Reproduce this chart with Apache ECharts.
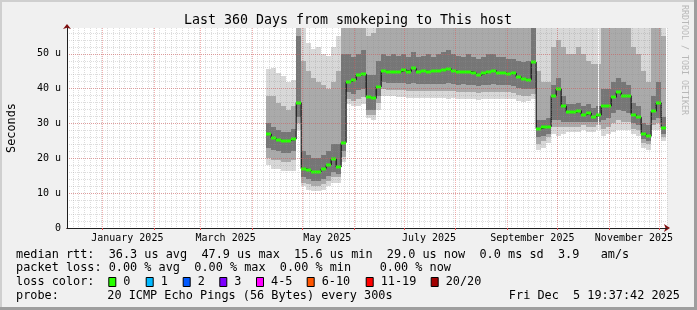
<!DOCTYPE html>
<html><head><meta charset="utf-8">
<script src="https://cdn.jsdelivr.net/npm/echarts@6/dist/echarts.min.js"></script>
<style>html,body{margin:0;padding:0;background:#f0f0f0}#c{width:697px;height:310px}</style>
</head><body><div id="c"></div>
<script>
// ---------------- data ----------------
const titleText = 'Last 360 Days from smokeping to This host';
const graphStart = '2024-12-10T19:37:42Z';
const spanDays = 360;
const monthStarts = ['2025-01-01','2025-02-01','2025-03-01','2025-04-01','2025-05-01','2025-06-01',
  '2025-07-01','2025-08-01','2025-09-01','2025-10-01','2025-11-01','2025-12-01'];
const labelMonths = ['2025-01-01','2025-03-01','2025-05-01','2025-07-01','2025-09-01','2025-11-01'];
const labelTexts = ['January 2025','March 2025','May 2025','July 2025','September 2025','November 2025'];
const yTicks = [0, 10, 20, 30, 40, 50];
const yMax = 57.4;
const firstBucket = '2025-04-09T07:37:42Z';
const bucketDays = 3;
const outages = [['2025-10-25T11:00:00Z', '2025-10-26T07:00:00Z']];

const median = [27.0,25.8,25.2,24.9,25.1,25.5,36.0,
  17.0,16.6,16.0,16.2,17.0,18.1,19.8,17.5,
  24.5,42.0,42.5,43.9,44.2,37.5,37.2,40.5,
  45.0,44.9,44.9,44.8,45.3,44.9,45.8,44.9,45.0,44.9,45.1,45.2,45.4,45.7,45.1,44.7,44.9,44.9,44.6,43.9,44.4,44.9,45.2,44.6,44.5,44.2,44.4,43.4,42.7,42.6,
  47.6,28.5,28.9,29.0,38.0,40.0,35.0,33.4,33.2,33.7,32.5,33.0,32.0,32.4,
  35.0,35.0,37.5,39.0,38.0,38.0,32.5,31.8,27.0,26.3,33.5,36.0,28.8];
const smokeLo = [18,17,17,16.5,16.5,16.5,28,
  12,11,10.5,10.5,11,12,13,13,
  19,35.5,35,35,35.5,31.5,31,34,
  38,38,37.8,37.6,37.6,37.4,37.4,37.3,37.3,37.4,37.2,37.2,37.3,37.1,37.2,37.0,37.0,37.0,37.1,36.8,36.9,37.0,37.1,37.0,37.0,37.1,36.9,36.5,36.3,36.4,
  37,22.5,23,24.5,27,26.5,27,27.5,27.5,27.5,28,27.5,27.5,28,
  26.5,27,27.5,28,28,28,27,26.5,23,22.5,28,28,25];
const smokeLo2 = [20,19.5,19.5,19,19,19.5,30,
  13,12.5,12,12,12.5,13.5,14.5,14.5,
  20.5,37,36.5,37,37.5,32.5,32.5,36,
  39.8,39.7,39.6,39.5,39.5,39.4,39.4,39.3,39.3,39.4,39.2,39.2,39.3,39.2,39.2,39.0,39.0,39.0,39.1,38.8,38.9,39.0,39.1,39.0,39.0,39.1,38.8,38.3,38.0,38.0,
  38.5,24,25,26,29,29,29,29,29,29,29.5,29,29,29.5,
  28.5,29,30,31,30.5,30.5,28.5,28,24.5,24,29.5,30,26];
const smokeLo3 = [23,22.5,22,21.5,21.5,22,32,
  14.5,14,13.5,13.5,14,15,16,15.5,
  22,39,38.5,39.5,40,34,34,38,
  41.8,41.7,41.6,41.5,41.6,41.4,41.6,41.3,41.4,41.4,41.3,41.3,41.4,41.5,41.3,41.1,41.2,41.1,41.1,40.7,40.9,41.1,41.3,41.0,41.0,41.0,40.8,40.2,39.8,39.8,
  40,26,26.5,27,31,31,30.5,30.5,30.5,30.5,30.5,30.5,30.5,30.5,
  31,31.5,33,34,33.5,33,30,29.5,25.5,25,31,31.5,27];
const smokeHi3 = [30,29,28,27.5,27.5,28.5,55,
  22,21,20,20,21,22,24,24,
  50,50,49,50,51,44,44,48,
  50,49.5,50,49.5,50,49,50.5,49,49.5,50,49,50,50.5,51,50,49.5,49,50,49,48.5,49,50,50,49,49,48.5,48.5,48,47.5,48,
  62,31,31,31.5,41,43,38,35.5,35.5,36,35,35.5,34.5,35,
  40,40,42,43,42,41,36,35,30,29.5,38,42,32];
const smokeHi2 = [38,38,36,35,34,35,62,
  48,45,43,42,41,40,42,45,
  62,62,62,62,62,55,56,58,
  62,60,62,62,58,62,62,62,60,62,62,62,62,62,62,62,62,58,62,62,62,62,60,62,62,62,62,62,62,62,
  62,45,42,42,52,54,52,50,50,52,50,48,47,47,
  58,60,60,62,60,58,52,50,45,42,58,60,55];
const smokeHi = [45.5,46,44.5,43.5,42,42.5,62,
  62,53,51.5,52,50,49.5,52,55,
  62,62,62,62,62,62,62,62,
  62,62,62,62,62,62,62,62,62,62,62,62,62,62,62,62,62,62,62,62,62,62,62,62,62,62,62,62,62,62,
  62,62,62,62,62,62,62,62,62,62,62,62,62,62,
  62,62,62,62,62,62,62,62,62,62,62,62,62];

const legendRtt = 'median rtt:  36.3 us avg  47.9 us max  15.6 us min  29.0 us now  0.0 ms sd  3.9   am/s';
const legendLoss = 'packet loss: 0.00 % avg  0.00 % max  0.00 % min    0.00 % now';
const lossLabels = ['0','1','2','3','4-5','6-10','11-19','20/20'];
const lossColors = ['#26ff00','#00b8ff','#0059ff','#7e00ff','#ff00ff','#ff5500','#ff0000','#a10000'];
const probeText = '20 ICMP Echo Pings (56 Bytes) every 300s';
const stampText = 'Fri Dec  5 19:37:42 2025';

// ---------------- build ----------------
const DAY = 86400000;
const T0 = Date.parse(graphStart);
const dayOf = s => (Date.parse(s.length === 10 ? s + 'T00:00:00Z' : s) - T0) / DAY;
const monthDays = monthStarts.map(dayOf);
const labelDays = labelMonths.map(s => dayOf(s) + 15);
const b0 = dayOf(firstBucket);
const spans = median.map((_, i) => [b0 + i * bucketDays, b0 + (i + 1) * bucketDays]);

const MONO = '"DejaVu Sans Mono", monospace';
const layerDefs = [
  [smokeLo, smokeHi, '#d8d8d8'],
  [smokeLo2, smokeHi2, '#aaaaaa'],
  [smokeLo3, smokeHi3, '#767676']
];
function bandItem(color) {
  return function (params, api) {
    const a = api.coord([api.value(0), api.value(3)]);
    const b = api.coord([api.value(1), api.value(2)]);
    const x0 = Math.round(a[0]), x1 = Math.round(b[0]);
    return { type: 'rect', shape: { x: x0, y: Math.round(a[1]), width: x1 - x0, height: Math.round(b[1]) - Math.round(a[1]) },
      style: { fill: color } };
  };
}
const series = layerDefs.map(([lo, hi, col]) => ({
  type: 'custom', renderItem: bandItem(col), clip: true, silent: true, z: 2,
  encode: { x: [0, 1], y: [2, 3] },
  data: spans.map((s, i) => [s[0], s[1], lo[i], hi[i]])
}));
series.push({
  type: 'custom', clip: true, silent: true, z: 2,
  renderItem: bandItem('#ffffff'), encode: { x: [0, 1], y: [2, 3] },
  data: outages.map(o => [dayOf(o[0]), dayOf(o[1]), 0, yMax])
});
const medLine = [];
spans.forEach((s, i) => { medLine.push([s[0], median[i]]); medLine.push([s[1], median[i]]); });
series.push({ type: 'line', data: medLine, symbol: 'none', silent: true, z: 3,
  lineStyle: { color: '#000', width: 1 }, animation: false });
series.push({
  type: 'custom', clip: true, silent: true, z: 4, encode: { x: [0, 1], y: 2 },
  data: spans.map((s, i) => [s[0], s[1], median[i]]),
  renderItem: function (params, api) {
    const a = api.coord([api.value(0), api.value(2)]);
    const b = api.coord([api.value(1), api.value(2)]);
    const x0 = Math.round(a[0]), x1 = Math.round(b[0]);
    return { type: 'rect', shape: { x: x0, y: Math.round(a[1]) - 1.5, width: x1 - x0, height: 3 }, style: { fill: lossColors[0] } };
  }
});

const lossBoxX = [108.3, 145.7, 182.7, 219.3, 256, 306.7, 365.7, 430.7];
const graphic = [
  { type: 'rect', shape: { x: 0, y: 0, width: 697, height: 2 }, style: { fill: '#cfcfcf' }, z: 100 },
  { type: 'rect', shape: { x: 0, y: 0, width: 2, height: 310 }, style: { fill: '#cfcfcf' }, z: 100 },
  { type: 'rect', shape: { x: 0, y: 307, width: 697, height: 3 }, style: { fill: '#9e9e9e' }, z: 100 },
  { type: 'rect', shape: { x: 694, y: 0, width: 3, height: 310 }, style: { fill: '#9e9e9e' }, z: 100 },
  { type: 'text', x: 348, y: 20.5, style: { text: titleText, font: '13.3px ' + MONO, fill: '#000', align: 'center', verticalAlign: 'middle' } },
  { type: 'text', x: 684, y: 60, rotation: -Math.PI / 2, style: { text: 'RRDTOOL / TOBI OETIKER', font: '8.3px ' + MONO, fill: '#b8b8b8', align: 'center', verticalAlign: 'middle' } },
  { type: 'text', x: 16, y: 254.5, style: { text: legendRtt, font: '11.85px ' + MONO, fill: '#000', verticalAlign: 'middle' } },
  { type: 'text', x: 16, y: 268.3, style: { text: legendLoss, font: '11.85px ' + MONO, fill: '#000', verticalAlign: 'middle' } },
  { type: 'text', x: 16, y: 282.2, style: { text: 'loss color:', font: '11.85px ' + MONO, fill: '#000', verticalAlign: 'middle' } },
  { type: 'text', x: 16, y: 296, style: { text: 'probe:', font: '11.85px ' + MONO, fill: '#000', verticalAlign: 'middle' } },
  { type: 'text', x: 107.3, y: 296, style: { text: probeText, font: '11.85px ' + MONO, fill: '#000', verticalAlign: 'middle' } },
  { type: 'text', x: 680, y: 296, style: { text: stampText, font: '11.85px ' + MONO, fill: '#000', align: 'right', verticalAlign: 'middle' } }
];
lossLabels.forEach((lab, i) => {
  graphic.push({ type: 'rect', shape: { x: lossBoxX[i] + 0.5, y: 277.5, width: 7, height: 9 }, style: { fill: lossColors[i], stroke: '#000', lineWidth: 1 } });
  graphic.push({ type: 'text', x: lossBoxX[i] + 15, y: 282.2, style: { text: lab, font: '11.85px ' + MONO, fill: '#000', verticalAlign: 'middle' } });
});

const chart = echarts.init(document.getElementById('c'), null, { renderer: 'canvas' });
chart.setOption({
  animation: false,
  backgroundColor: '#f0f0f0',
  grid: { left: 67, right: 30, top: 28, bottom: 82, show: true, backgroundColor: '#ffffff', borderWidth: 0,
    outerBoundsMode: 'none', containLabel: false },
  xAxis: [
    { type: 'value', min: 0, max: spanDays, position: 'bottom', z: 6,
      axisLine: { show: true, lineStyle: { color: '#202020', width: 1 } },
      axisTick: { show: true, customValues: monthDays, length: 2, lineStyle: { color: '#e05050' } },
      axisLabel: { customValues: labelDays, fontFamily: MONO, fontSize: 10, color: '#000', margin: 5,
        formatter: v => { let k = 0; labelDays.forEach((d, i) => { if (Math.abs(d - v) < Math.abs(labelDays[k] - v)) k = i; }); return labelTexts[k]; } },
      splitLine: { show: true, lineStyle: { color: 'rgba(224,80,80,0.45)', type: [1, 1] } } },
    { type: 'value', min: 0, max: spanDays, interval: 3.4615, position: 'bottom', z: 5,
      axisLine: { show: false }, axisTick: { show: false }, axisLabel: { show: false },
      splitLine: { show: true, showMinLine: false, showMaxLine: false, lineStyle: { color: 'rgba(143,143,143,0.3)', type: [1, 1] } } },
    { type: 'value', min: 0, max: spanDays, position: 'bottom', z: 4,
      axisLine: { show: true, symbol: ['none', 'arrow'], symbolSize: [6, 6], symbolOffset: [0, 3], lineStyle: { color: '#801010' } },
      axisTick: { show: false }, axisLabel: { show: false }, splitLine: { show: false } }
  ],
  yAxis: [
    { type: 'value', min: 0, max: yMax, interval: 10, position: 'left', z: 6,
      axisLine: { show: true, lineStyle: { color: '#202020', width: 1 } },
      axisTick: { show: false },
      axisLabel: { fontFamily: MONO, fontSize: 10, color: '#000', margin: 6, showMaxLabel: false,
        formatter: v => yTicks.indexOf(v) < 0 ? '' : (v === 0 ? '0' : v + ' u') },
      splitLine: { show: true, showMinLine: false, showMaxLine: false, lineStyle: { color: 'rgba(224,80,80,0.45)', type: [1, 1] } },
      name: 'Seconds', nameLocation: 'middle', nameGap: 49, nameRotate: 90,
      nameTextStyle: { fontFamily: MONO, fontSize: 11.85, color: '#000' } },
    { type: 'value', min: 0, max: yMax, interval: 2, position: 'left', z: 5,
      axisLine: { show: false }, axisTick: { show: false }, axisLabel: { show: false },
      splitLine: { show: true, showMinLine: false, showMaxLine: false, lineStyle: { color: 'rgba(143,143,143,0.3)', type: [1, 1] } } },
    { type: 'value', min: 0, max: yMax, position: 'left', z: 4,
      axisLine: { show: true, symbol: ['none', 'arrow'], symbolSize: [6, 5], symbolOffset: [0, 4], lineStyle: { color: '#801010' } },
      axisTick: { show: false }, axisLabel: { show: false }, splitLine: { show: false } }
  ],
  series: series,
  graphic: graphic
});
</script></body></html>
